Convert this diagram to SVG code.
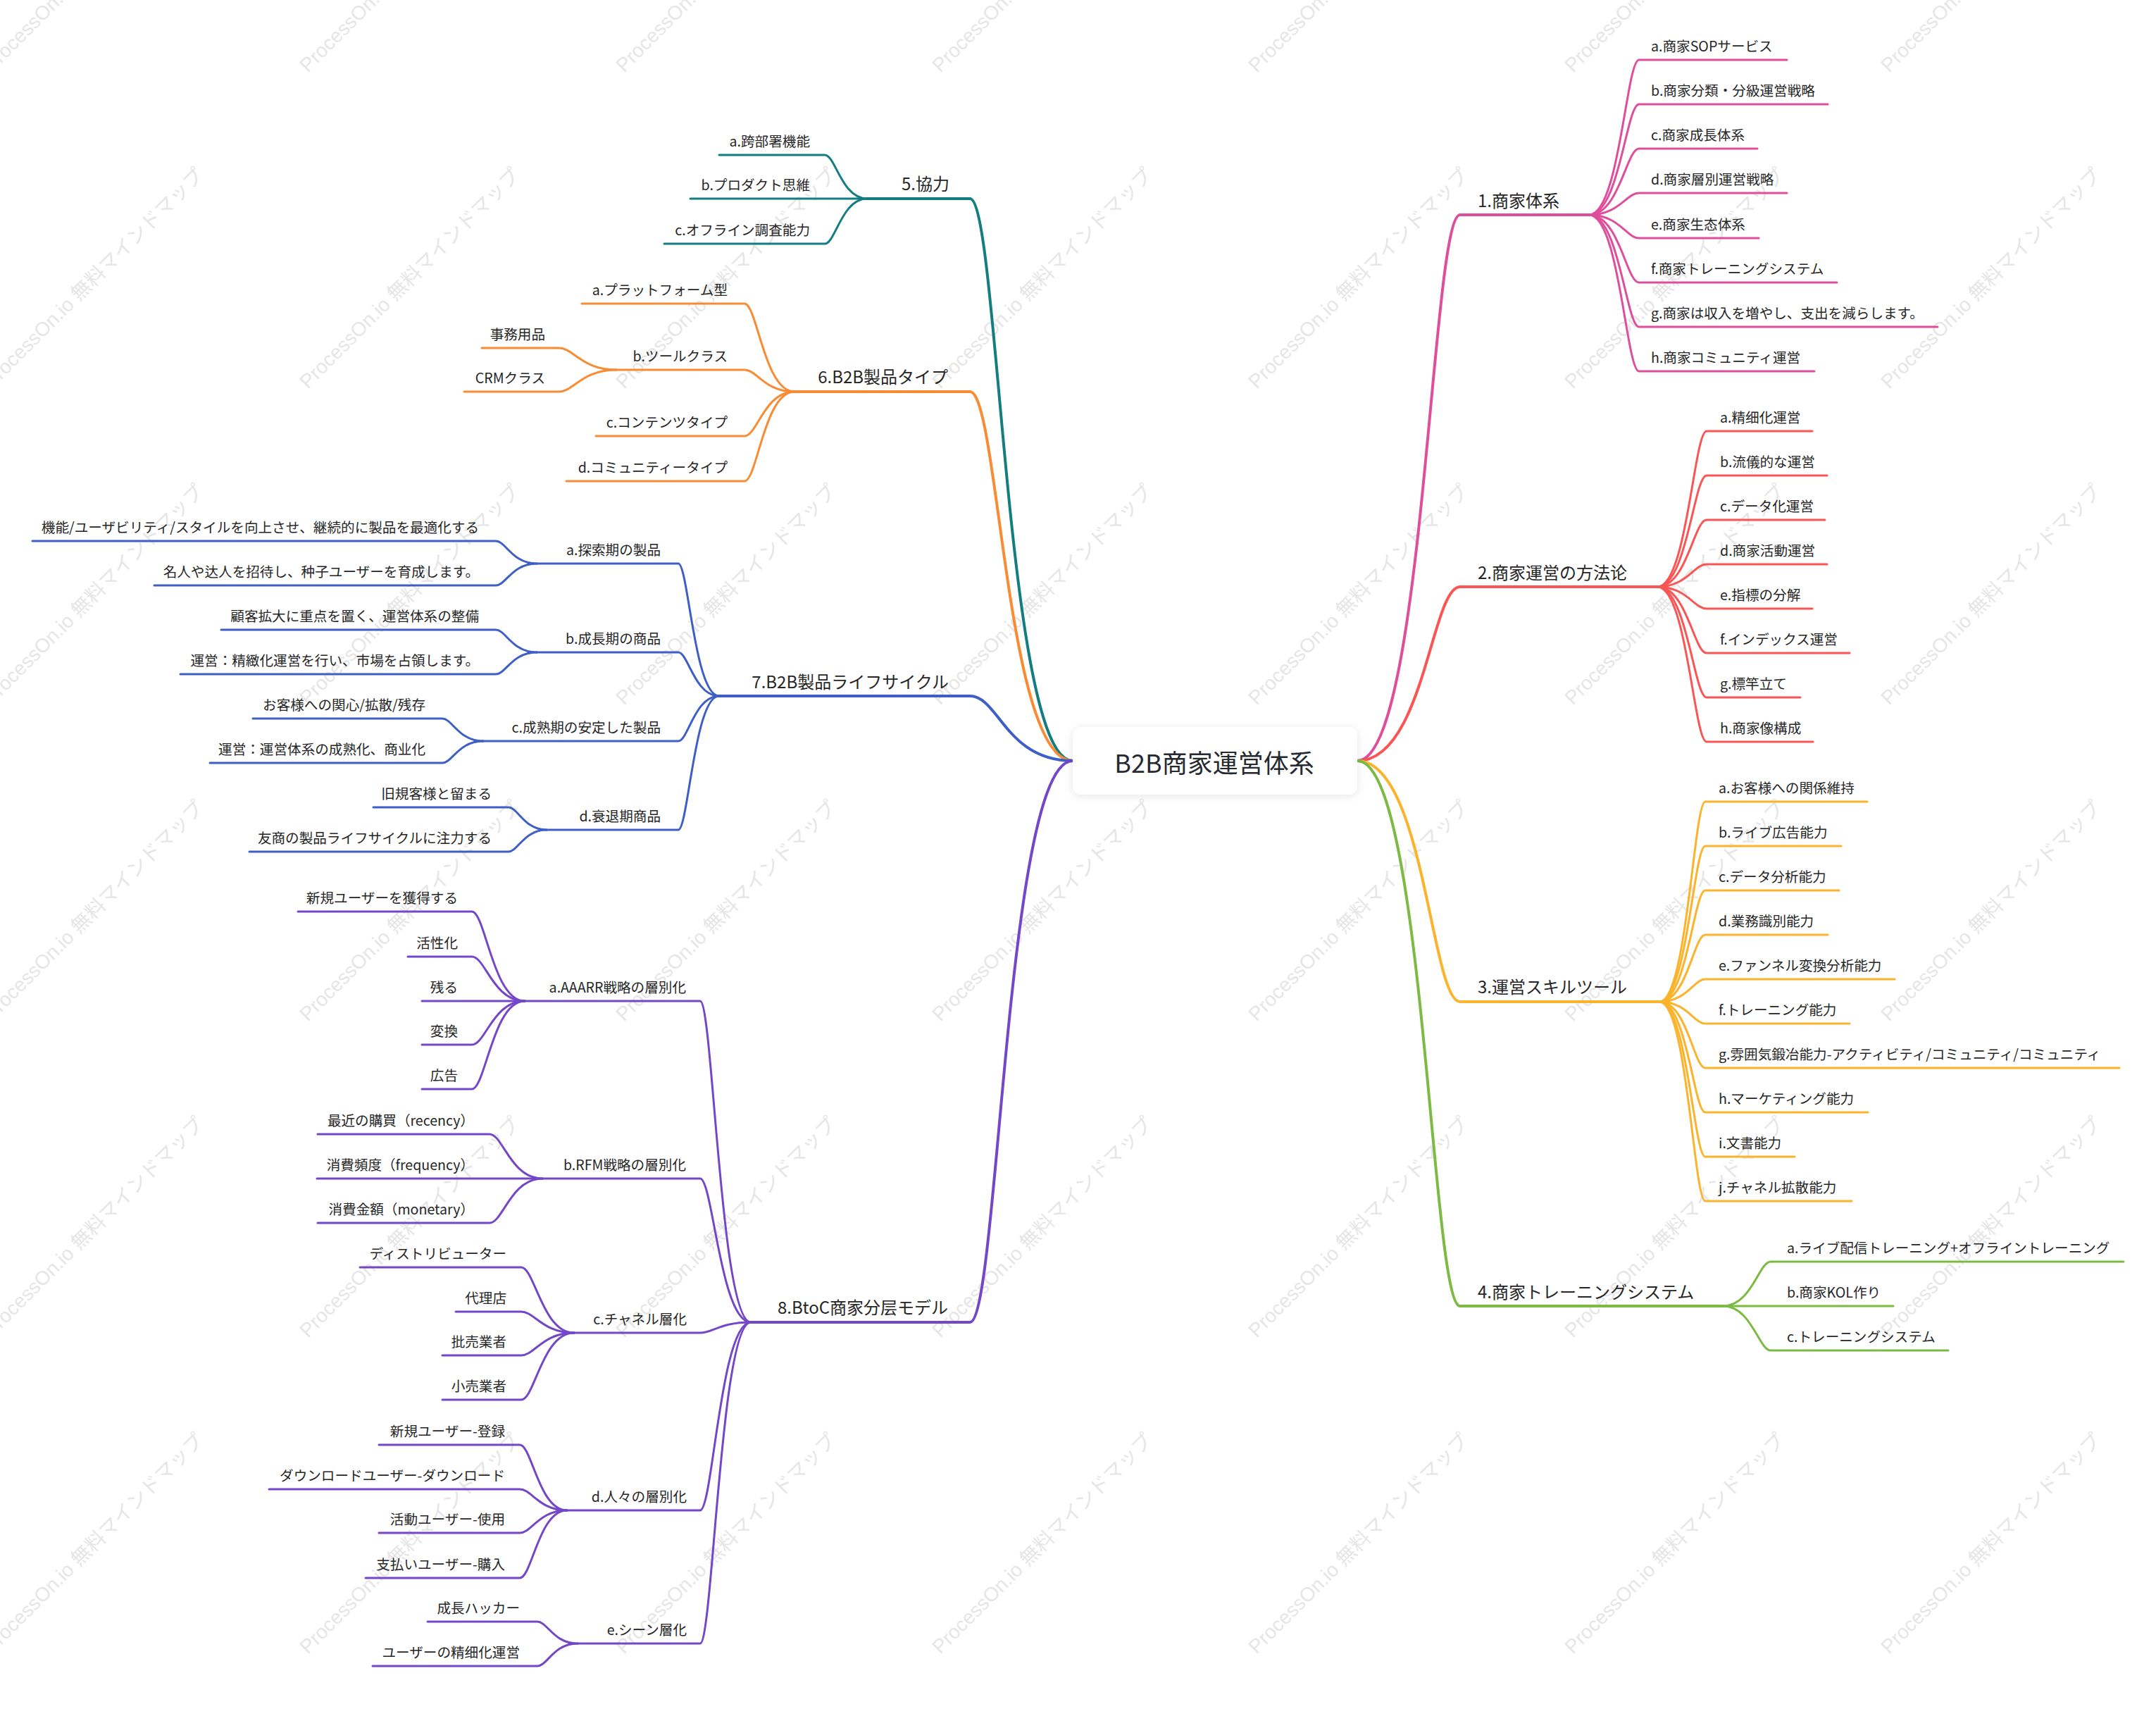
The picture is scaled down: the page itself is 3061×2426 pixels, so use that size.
<svg xmlns="http://www.w3.org/2000/svg" xmlns:xlink="http://www.w3.org/1999/xlink" width="3061" height="2426" viewBox="0 0 3061 2426">
<style>
text{font-family:"Noto Sans CJK JP","Noto Sans",sans-serif;fill:#262626}
.wm{font-family:"Liberation Sans","Noto Sans CJK JP",sans-serif;font-size:28px;fill:#e6e6e6}
.rt{font-size:36px;fill:#262a30;text-anchor:middle}
.mt{font-size:24px}
.nt{font-size:19.6px}
.e{text-anchor:end}
path{fill:none;stroke-linecap:round;stroke-linejoin:round}
.m{stroke-width:4}
.s{stroke-width:3}
.c1{stroke:#DF4E9B}.c2{stroke:#F95555}.c3{stroke:#FBB32C}.c4{stroke:#7DBA43}
.c5{stroke:#137D7F}.c6{stroke:#F78C34}.c7{stroke:#3F5FC6}.c8{stroke:#7347C8}
</style>
<defs>
<filter id="sh" x="-10%" y="-30%" width="120%" height="160%"><feDropShadow dx="0" dy="2" stdDeviation="6" flood-color="#000" flood-opacity="0.1"/></filter>
<text id="wm" class="wm" transform="rotate(-45)">ProcessOn.io 無料マインドマップ</text>
</defs>
<rect width="3061" height="2426" fill="#fff"/>
<g id="watermark">
<use href="#wm" x="-12" y="104"/><use href="#wm" x="437" y="104"/><use href="#wm" x="886" y="104"/><use href="#wm" x="1335" y="104"/><use href="#wm" x="1784" y="104"/><use href="#wm" x="2233" y="104"/><use href="#wm" x="2682" y="104"/>
<use href="#wm" x="-12" y="553"/><use href="#wm" x="437" y="553"/><use href="#wm" x="886" y="553"/><use href="#wm" x="1335" y="553"/><use href="#wm" x="1784" y="553"/><use href="#wm" x="2233" y="553"/><use href="#wm" x="2682" y="553"/>
<use href="#wm" x="-12" y="1002"/><use href="#wm" x="437" y="1002"/><use href="#wm" x="886" y="1002"/><use href="#wm" x="1335" y="1002"/><use href="#wm" x="1784" y="1002"/><use href="#wm" x="2233" y="1002"/><use href="#wm" x="2682" y="1002"/>
<use href="#wm" x="-12" y="1451"/><use href="#wm" x="437" y="1451"/><use href="#wm" x="886" y="1451"/><use href="#wm" x="1335" y="1451"/><use href="#wm" x="1784" y="1451"/><use href="#wm" x="2233" y="1451"/><use href="#wm" x="2682" y="1451"/>
<use href="#wm" x="-12" y="1900"/><use href="#wm" x="437" y="1900"/><use href="#wm" x="886" y="1900"/><use href="#wm" x="1335" y="1900"/><use href="#wm" x="1784" y="1900"/><use href="#wm" x="2233" y="1900"/><use href="#wm" x="2682" y="1900"/>
<use href="#wm" x="-12" y="2349"/><use href="#wm" x="437" y="2349"/><use href="#wm" x="886" y="2349"/><use href="#wm" x="1335" y="2349"/><use href="#wm" x="1784" y="2349"/><use href="#wm" x="2233" y="2349"/><use href="#wm" x="2682" y="2349"/>
</g>
<g id="connectors">
<path class="m c1" d="M1927 1080C2022 1080 2032 305 2073 305L2256 305"/>
<path class="m c2" d="M1927 1080C2022 1080 2032 833 2073 833L2353 833"/>
<path class="m c3" d="M1927 1080C2022 1080 2032 1422 2073 1422L2356 1422"/>
<path class="m c4" d="M1927 1080C2022 1080 2032 1854 2073 1854L2446 1854"/>
<path class="m c5" d="M1523 1080C1428 1080 1418 282 1377 282L1231 282"/>
<path class="m c6" d="M1523 1080C1428 1080 1418 556 1377 556L1128 556"/>
<path class="m c7" d="M1523 1080C1428 1080 1418 988 1377 988L1021 988"/>
<path class="m c8" d="M1523 1080C1428 1080 1418 1877 1377 1877L1066 1877"/>
<g class="s c1">
<path d="M2256 305C2299 305 2309 85 2327 85L2537 85"/>
<path d="M2256 305C2299 305 2309 148 2327 148L2595 148"/>
<path d="M2256 305C2299 305 2309 211 2327 211L2495 211"/>
<path d="M2256 305C2299 305 2309 274 2327 274L2537 274"/>
<path d="M2256 305C2299 305 2309 338 2327 338L2497 338"/>
<path d="M2256 305C2299 305 2309 401 2327 401L2608 401"/>
<path d="M2256 305C2299 305 2309 464 2327 464L2751 464"/>
<path d="M2256 305C2299 305 2309 527 2327 527L2576 527"/>
</g>
<g class="s c2">
<path d="M2353 833C2395 833 2405 612 2423 612L2573 612"/>
<path d="M2353 833C2395 833 2405 675 2423 675L2594 675"/>
<path d="M2353 833C2395 833 2405 738 2423 738L2591 738"/>
<path d="M2353 833C2395 833 2405 801 2423 801L2594 801"/>
<path d="M2353 833C2395 833 2405 864 2423 864L2573 864"/>
<path d="M2353 833C2395 833 2405 927 2423 927L2626 927"/>
<path d="M2353 833C2395 833 2405 990 2423 990L2556 990"/>
<path d="M2353 833C2395 833 2405 1053 2423 1053L2574 1053"/>
</g>
<g class="s c3">
<path d="M2356 1422C2395 1422 2405 1138 2421 1138L2651 1138"/>
<path d="M2356 1422C2395 1422 2405 1201 2421 1201L2614 1201"/>
<path d="M2356 1422C2395 1422 2405 1264 2421 1264L2611 1264"/>
<path d="M2356 1422C2395 1422 2405 1327 2421 1327L2595 1327"/>
<path d="M2356 1422C2395 1422 2405 1390 2421 1390L2690 1390"/>
<path d="M2356 1422C2395 1422 2405 1453 2421 1453L2626 1453"/>
<path d="M2356 1422C2395 1422 2405 1516 2421 1516L3009 1516"/>
<path d="M2356 1422C2395 1422 2405 1579 2421 1579L2652 1579"/>
<path d="M2356 1422C2395 1422 2405 1642 2421 1642L2548 1642"/>
<path d="M2356 1422C2395 1422 2405 1705 2421 1705L2629 1705"/>
</g>
<g class="s c4">
<path d="M2446 1854C2487 1854 2497 1791 2514 1791L3015 1791"/>
<path d="M2446 1854L2688 1854"/>
<path d="M2446 1854C2487 1854 2497 1917 2514 1917L2766 1917"/>
</g>
<g class="s c5">
<path d="M1231 282C1195 282 1186 220 1171 220L1021 220"/>
<path d="M1231 282L980 282"/>
<path d="M1231 282C1195 282 1186 346 1171 346L943 346"/>
</g>
<g class="s c6">
<path d="M1128 556C1085 556 1075 431 1057 431L826 431"/>
<path d="M1128 556C1085 556 1075 525 1057 525L875 525"/>
<path d="M1128 556C1085 556 1075 619 1057 619L846 619"/>
<path d="M1128 556C1085 556 1075 683 1057 683L804 683"/>
<path d="M875 525C826 525 814 494 794 494L684 494"/>
<path d="M875 525C826 525 814 556 794 556L659 556"/>
</g>
<g class="s c7">
<path d="M1021 988C986 988 977 800 963 800L762 800"/>
<path d="M1021 988C986 988 977 926 963 926L762 926"/>
<path d="M1021 988C986 988 977 1052 963 1052L686 1052"/>
<path d="M1021 988C986 988 977 1178 963 1178L776 1178"/>
<path d="M762 800C727 800 718 768 704 768L46 768"/>
<path d="M762 800C727 800 718 831 704 831L219 831"/>
<path d="M762 926C727 926 718 894 704 894L314 894"/>
<path d="M762 926C727 926 718 957 704 957L256 957"/>
<path d="M686 1052C651 1052 642 1020 628 1020L359 1020"/>
<path d="M686 1052C651 1052 642 1083 628 1083L298 1083"/>
<path d="M776 1178C744 1178 735 1146 722 1146L530 1146"/>
<path d="M776 1178C744 1178 735 1209 722 1209L354 1209"/>
</g>
<g class="s c8">
<path d="M1066 1877C1023 1877 1012 1421 994 1421L745 1421"/>
<path d="M1066 1877C1023 1877 1012 1673 994 1673L770 1673"/>
<path d="M1066 1877C1023 1877 1012 1892 994 1892L815 1892"/>
<path d="M1066 1877C1023 1877 1012 2144 994 2144L805 2144"/>
<path d="M1066 1877C1023 1877 1012 2333 994 2333L820 2333"/>
<path d="M745 1421C700 1421 689 1294 670 1294L423 1294"/>
<path d="M745 1421C700 1421 689 1358 670 1358L579 1358"/>
<path d="M745 1421L599 1421"/>
<path d="M745 1421C700 1421 689 1483 670 1483L599 1483"/>
<path d="M745 1421C700 1421 689 1546 670 1546L599 1546"/>
<path d="M770 1673C725 1673 714 1610 695 1610L451 1610"/>
<path d="M770 1673L450 1673"/>
<path d="M770 1673C725 1673 714 1736 695 1736L451 1736"/>
<path d="M815 1892C770 1892 759 1799 740 1799L511 1799"/>
<path d="M815 1892C770 1892 759 1862 740 1862L647 1862"/>
<path d="M815 1892C770 1892 759 1924 740 1924L628 1924"/>
<path d="M815 1892C770 1892 759 1987 740 1987L628 1987"/>
<path d="M805 2144C765 2144 755 2051 738 2051L538 2051"/>
<path d="M805 2144C765 2144 755 2114 738 2114L382 2114"/>
<path d="M805 2144C765 2144 755 2176 738 2176L538 2176"/>
<path d="M805 2144C765 2144 755 2240 738 2240L519 2240"/>
<path d="M820 2333C786 2333 777 2302 763 2302L607 2302"/>
<path d="M820 2333C786 2333 777 2365 763 2365L529 2365"/>
</g>
</g>
<g id="n-root"><rect x="1523" y="1032" width="404" height="96" rx="12" fill="#fff" filter="url(#sh)"/><text class="rt" x="1724" y="1097">B2B商家運営体系</text></g>
<g id="n1"><text class="mt" x="2098" y="294">1.商家体系</text></g>
<g id="n1a"><text class="nt" x="2344" y="73">a.商家SOPサービス</text></g>
<g id="n1b"><text class="nt" x="2344" y="136">b.商家分類・分級運営戦略</text></g>
<g id="n1c"><text class="nt" x="2344" y="199">c.商家成長体系</text></g>
<g id="n1d"><text class="nt" x="2344" y="262">d.商家層別運営戦略</text></g>
<g id="n1e"><text class="nt" x="2344" y="326">e.商家生态体系</text></g>
<g id="n1f"><text class="nt" x="2344" y="389">f.商家トレーニングシステム</text></g>
<g id="n1g"><text class="nt" x="2344" y="452">g.商家は収入を増やし、支出を減らします。</text></g>
<g id="n1h"><text class="nt" x="2344" y="515">h.商家コミュニティ運営</text></g>
<g id="n2"><text class="mt" x="2098" y="822">2.商家運営の方法论</text></g>
<g id="n2a"><text class="nt" x="2442" y="600">a.精细化運営</text></g>
<g id="n2b"><text class="nt" x="2442" y="663">b.流儀的な運営</text></g>
<g id="n2c"><text class="nt" x="2442" y="726">c.データ化運営</text></g>
<g id="n2d"><text class="nt" x="2442" y="789">d.商家活動運営</text></g>
<g id="n2e"><text class="nt" x="2442" y="852">e.指標の分解</text></g>
<g id="n2f"><text class="nt" x="2442" y="915">f.インデックス運営</text></g>
<g id="n2g"><text class="nt" x="2442" y="978">g.標竿立て</text></g>
<g id="n2h"><text class="nt" x="2442" y="1041">h.商家像構成</text></g>
<g id="n3"><text class="mt" x="2098" y="1410">3.運営スキルツール</text></g>
<g id="n3a"><text class="nt" x="2440" y="1126">a.お客様への関係維持</text></g>
<g id="n3b"><text class="nt" x="2440" y="1189">b.ライブ広告能力</text></g>
<g id="n3c"><text class="nt" x="2440" y="1252">c.データ分析能力</text></g>
<g id="n3d"><text class="nt" x="2440" y="1315">d.業務識別能力</text></g>
<g id="n3e"><text class="nt" x="2440" y="1378">e.ファンネル変換分析能力</text></g>
<g id="n3f"><text class="nt" x="2440" y="1441">f.トレーニング能力</text></g>
<g id="n3g"><text class="nt" x="2440" y="1504">g.雰囲気鍛冶能力-アクティビティ/コミュニティ/コミュニティ</text></g>
<g id="n3h"><text class="nt" x="2440" y="1567">h.マーケティング能力</text></g>
<g id="n3i"><text class="nt" x="2440" y="1630">i.文書能力</text></g>
<g id="n3j"><text class="nt" x="2440" y="1693">j.チャネル拡散能力</text></g>
<g id="n4"><text class="mt" x="2098" y="1843">4.商家トレーニングシステム</text></g>
<g id="n4a"><text class="nt" x="2537" y="1779">a.ライブ配信トレーニング+オフライントレーニング</text></g>
<g id="n4b"><text class="nt" x="2537" y="1842">b.商家KOL作り</text></g>
<g id="n4c"><text class="nt" x="2537" y="1905">c.トレーニングシステム</text></g>
<g id="n5"><text class="mt e" x="1348" y="270">5.協力</text></g>
<g id="n5a"><text class="nt e" x="1150" y="208">a.跨部署機能</text></g>
<g id="n5b"><text class="nt e" x="1150" y="270">b.プロダクト思維</text></g>
<g id="n5c"><text class="nt e" x="1150" y="334">c.オフライン調査能力</text></g>
<g id="n6"><text class="mt e" x="1346" y="544">6.B2B製品タイプ</text></g>
<g id="n6a"><text class="nt e" x="1033" y="419">a.プラットフォーム型</text></g>
<g id="n6b"><text class="nt e" x="1033" y="513">b.ツールクラス</text></g>
<g id="n6b1"><text class="nt e" x="774" y="482">事務用品</text></g>
<g id="n6b2"><text class="nt e" x="774" y="544">CRMクラス</text></g>
<g id="n6c"><text class="nt e" x="1033" y="607">c.コンテンツタイプ</text></g>
<g id="n6d"><text class="nt e" x="1033" y="671">d.コミュニティータイプ</text></g>
<g id="n7"><text class="mt e" x="1347" y="977">7.B2B製品ライフサイクル</text></g>
<g id="n7a"><text class="nt e" x="938" y="788">a.探索期の製品</text></g>
<g id="n7a1"><text class="nt e" x="680" y="756">機能/ユーザビリティ/スタイルを向上させ、継続的に製品を最適化する</text></g>
<g id="n7a2"><text class="nt e" x="680" y="819">名人や达人を招待し、种子ユーザーを育成します。</text></g>
<g id="n7b"><text class="nt e" x="938" y="914">b.成長期の商品</text></g>
<g id="n7b1"><text class="nt e" x="680" y="882">顧客拡大に重点を置く、運営体系の整備</text></g>
<g id="n7b2"><text class="nt e" x="680" y="945">運営：精緻化運営を行い、市場を占領します。</text></g>
<g id="n7c"><text class="nt e" x="938" y="1040">c.成熟期の安定した製品</text></g>
<g id="n7c1"><text class="nt e" x="604" y="1008">お客様への関心/拡散/残存</text></g>
<g id="n7c2"><text class="nt e" x="604" y="1071">運営：運営体系の成熟化、商业化</text></g>
<g id="n7d"><text class="nt e" x="938" y="1166">d.衰退期商品</text></g>
<g id="n7d1"><text class="nt e" x="698" y="1134">旧規客様と留まる</text></g>
<g id="n7d2"><text class="nt e" x="698" y="1197">友商の製品ライフサイクルに注力する</text></g>
<g id="n8"><text class="mt e" x="1346" y="1865">8.BtoC商家分层モデル</text></g>
<g id="n8a"><text class="nt e" x="974" y="1409">a.AAARR戦略の層別化</text></g>
<g id="n8a1"><text class="nt e" x="650" y="1282">新規ユーザーを獲得する</text></g>
<g id="n8a2"><text class="nt e" x="650" y="1346">活性化</text></g>
<g id="n8a3"><text class="nt e" x="650" y="1409">残る</text></g>
<g id="n8a4"><text class="nt e" x="650" y="1471">変換</text></g>
<g id="n8a5"><text class="nt e" x="650" y="1534">広告</text></g>
<g id="n8b"><text class="nt e" x="974" y="1661">b.RFM戦略の層別化</text></g>
<g id="n8b1"><text class="nt e" x="673" y="1598">最近の購買（recency）</text></g>
<g id="n8b2"><text class="nt e" x="673" y="1661">消費頻度（frequency）</text></g>
<g id="n8b3"><text class="nt e" x="673" y="1724">消費金額（monetary）</text></g>
<g id="n8c"><text class="nt e" x="975" y="1880">c.チャネル層化</text></g>
<g id="n8c1"><text class="nt e" x="719" y="1787">ディストリビューター</text></g>
<g id="n8c2"><text class="nt e" x="719" y="1850">代理店</text></g>
<g id="n8c3"><text class="nt e" x="719" y="1912">批売業者</text></g>
<g id="n8c4"><text class="nt e" x="719" y="1975">小売業者</text></g>
<g id="n8d"><text class="nt e" x="975" y="2132">d.人々の層別化</text></g>
<g id="n8d1"><text class="nt e" x="717" y="2039">新規ユーザー-登録</text></g>
<g id="n8d2"><text class="nt e" x="717" y="2102">ダウンロードユーザー-ダウンロード</text></g>
<g id="n8d3"><text class="nt e" x="717" y="2164">活動ユーザー-使用</text></g>
<g id="n8d4"><text class="nt e" x="717" y="2228">支払いユーザー-購入</text></g>
<g id="n8e"><text class="nt e" x="975" y="2321">e.シーン層化</text></g>
<g id="n8e1"><text class="nt e" x="738" y="2290">成長ハッカー</text></g>
<g id="n8e2"><text class="nt e" x="738" y="2353">ユーザーの精细化運営</text></g>
</svg>
